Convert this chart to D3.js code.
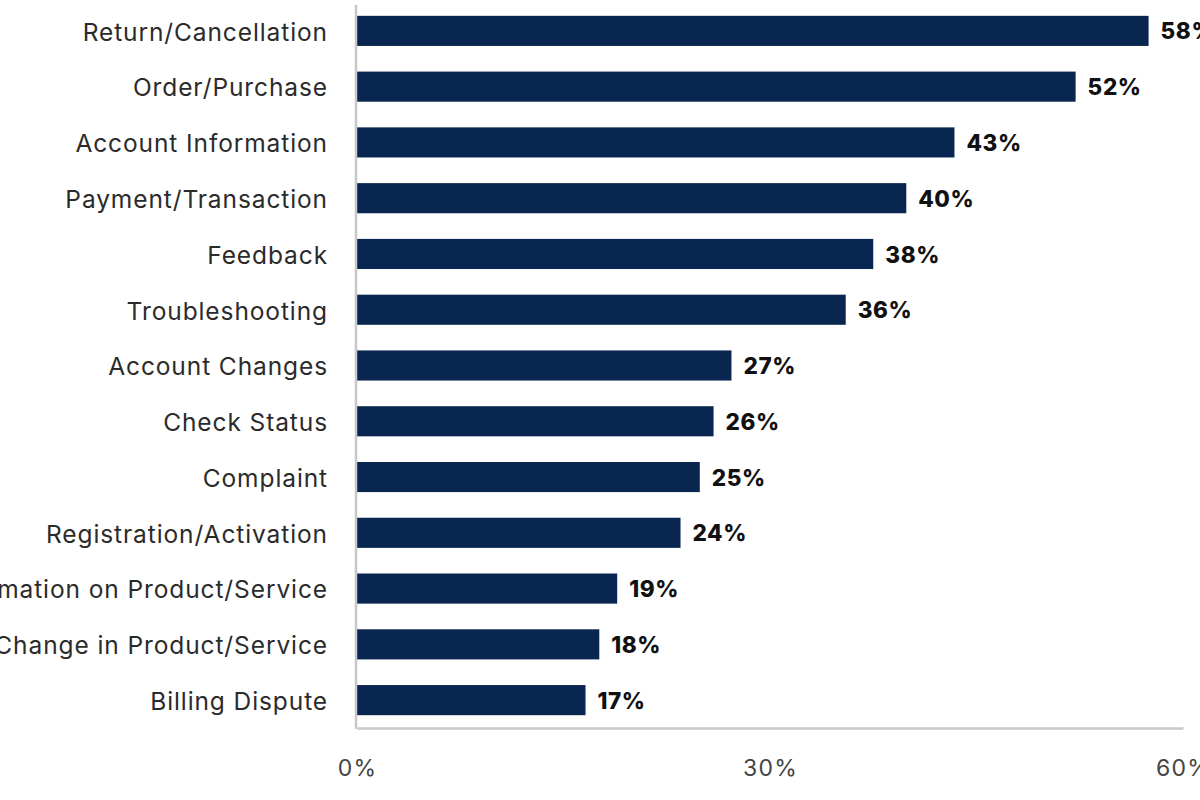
<!DOCTYPE html>
<html lang="en">
<head>
    <meta charset="UTF-8">
    <script src="https://cdnjs.cloudflare.com/ajax/libs/d3/7.8.5/d3.min.js"></script>
    <title>Contact Reasons</title>
    <style>
        body { margin: 0; background: #fff; }
        .cat { font-family: Inter, 'Noto Sans', sans-serif; font-size: 24.5px; letter-spacing: 0.9px; fill: #2b2b2b; }
        .val { font-family: Inter, 'Noto Sans', sans-serif; font-size: 22.5px; font-weight: 800; letter-spacing: 0.6px; fill: #111; }
        .tick text { font-family: Inter, 'Noto Sans', sans-serif; font-size: 23px; letter-spacing: 1.2px; fill: #444; }
    </style>
</head>
<body>
    <div class="fig"></div>
    <script>
        // Data
        const categories = [
            "Return/Cancellation", "Order/Purchase", "Account Information",
            "Payment/Transaction", "Feedback", "Troubleshooting", "Account Changes",
            "Check Status", "Complaint", "Registration/Activation",
            "Information on Product/Service", "Change in Product/Service", "Billing Dispute"
        ];
        const values = [57.5, 52.2, 43.4, 39.9, 37.5, 35.5, 27.2, 25.9, 24.9, 23.5, 18.9, 17.6, 16.6];
        const xTicks = [0, 30, 60];

        const width = 1200, height = 800;
        const x0 = 357, x1 = 1183;

        const svg = d3.select(".fig").append("svg")
            .attr("width", width)
            .attr("height", height);

        const x = d3.scaleLinear().domain([0, 60]).range([x0, x1]);
        const y = d3.scaleBand()
            .domain(categories)
            .range([3, 728])
            .paddingInner(0.46)
            .paddingOuter(0.23);

        // bars
        svg.selectAll("rect.bar")
            .data(values)
            .enter()
            .append("rect")
            .attr("class", "bar")
            .attr("x", x(0))
            .attr("y", (d, i) => y(categories[i]))
            .attr("width", d => x(d) - x(0))
            .attr("height", y.bandwidth())
            .attr("fill", "#08264f");

        // value labels
        svg.selectAll("text.val")
            .data(values)
            .enter()
            .append("text")
            .attr("class", "val")
            .attr("x", d => x(d) + 12)
            .attr("y", (d, i) => y(categories[i]) + y.bandwidth() / 2)
            .attr("dy", "0.38em")
            .text(d => Math.round(d) + "%");

        // category labels
        svg.selectAll("text.cat")
            .data(categories)
            .enter()
            .append("text")
            .attr("class", "cat")
            .attr("x", x0 - 29)
            .attr("y", d => y(d) + y.bandwidth() / 2)
            .attr("dy", "0.4em")
            .attr("text-anchor", "end")
            .text(d => d);

        // axis lines
        svg.append("line")
            .attr("x1", x0 - 1).attr("x2", x0 - 1)
            .attr("y1", 5).attr("y2", 729)
            .attr("stroke", "#c8c8c8").attr("stroke-width", 2.5);

        const xAxis = svg.append("g")
            .attr("transform", "translate(0,728)")
            .call(d3.axisBottom(x).tickValues(xTicks).tickSize(0).tickPadding(32).tickFormat(d => d + "%"));
        xAxis.select(".domain").attr("stroke", "#c8c8c8").attr("stroke-width", 2.5);
    </script>
</body>
</html>
